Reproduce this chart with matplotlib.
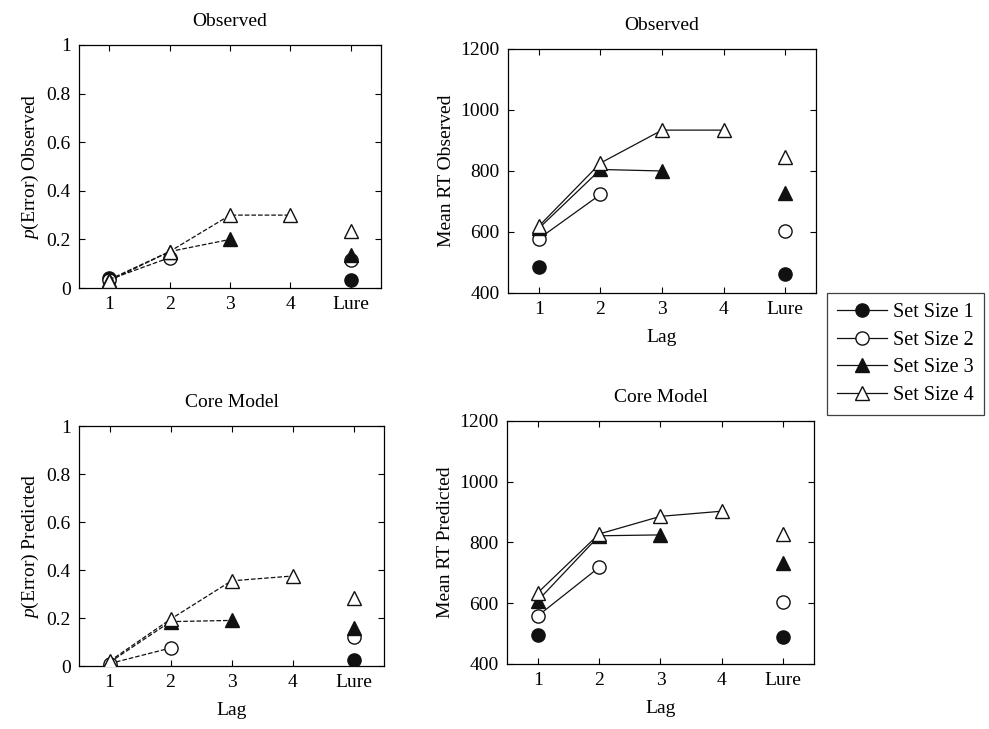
import numpy as np
import matplotlib
matplotlib.use("Agg")
import matplotlib.pyplot as plt
from matplotlib.lines import Line2D

plt.rcParams['font.family'] = ['Liberation Serif', 'DejaVu Serif']
plt.rcParams['mathtext.fontset'] = 'custom'
plt.rcParams['mathtext.it'] = 'Liberation Serif:italic'
plt.rcParams['mathtext.rm'] = 'Liberation Serif'

lag_labels = ["1", "2", "3", "4", "Lure"]
set_sizes = ["Set Size 1", "Set Size 2", "Set Size 3", "Set Size 4"]

# lag values per set size (lags 1..n), then the lure value
err_obs = [[0.042], [0.035, 0.125], [0.035, 0.15, 0.20], [0.03, 0.15, 0.30, 0.30]]
err_obs_lure = [0.035, 0.115, 0.135, 0.235]
rt_obs = [[485], [578, 723], [612, 805, 800], [619, 826, 934, 934]]
rt_obs_lure = [463, 602, 729, 846]
err_pred = [[0.0], [0.01, 0.075], [0.015, 0.185, 0.19], [0.02, 0.195, 0.355, 0.375]]
err_pred_lure = [0.027, 0.122, 0.157, 0.285]
rt_pred = [[495], [558, 718], [608, 822, 825], [634, 828, 886, 903]]
rt_pred_lure = [490, 603, 731, 829]

markers = [dict(marker='o', mfc='#111111'), dict(marker='o', mfc='white'),
           dict(marker='^', mfc='#111111'), dict(marker='^', mfc='white')]


def msize(i):
    return 10.5 if markers[i]['marker'] == '^' else 9.5


def draw_panel(ax, vals, lure, ls, ylim, yticks, ylabel, title):
    for i in range(4):
        y = vals[i]
        x = np.arange(1, len(y) + 1)
        ax.plot(x, y, ls=ls, lw=0.9, color='#111111', mec='#111111', mew=1.0,
                ms=msize(i), **markers[i], zorder=3 + i)
        ax.plot([5], [lure[i]], ls='none', color='#111111', mec='#111111', mew=1.0,
                ms=msize(i), **markers[i], zorder=3 + i)
    ax.set_xlim(0.5, 5.5)
    ax.set_ylim(*ylim)
    ax.set_xticks([1, 2, 3, 4, 5])
    ax.set_xticklabels(lag_labels)
    ax.set_yticks(yticks)
    ax.set_yticklabels([f"{t:g}" for t in yticks])
    ax.tick_params(direction='in', top=True, right=True, labelsize=14, length=4,
                   width=0.8, pad=6)
    ax.set_xlabel("Lag", fontsize=14, labelpad=8)
    ax.set_ylabel(ylabel, fontsize=14, labelpad=4)
    ax.set_title(title, fontsize=14, pad=14)
    for s in ax.spines.values():
        s.set_linewidth(0.9)


fig = plt.figure(figsize=(9.89, 7.29), dpi=100)
ax1 = fig.add_axes([0.0799, 0.6049, 0.3054, 0.3334])
ax2 = fig.add_axes([0.5137, 0.5981, 0.3114, 0.3347])
ax3 = fig.add_axes([0.0799, 0.0864, 0.3084, 0.3292])
ax4 = fig.add_axes([0.5126, 0.0892, 0.3104, 0.3333])

err_ticks = [0, 0.2, 0.4, 0.6, 0.8, 1]
rt_ticks = [400, 600, 800, 1000, 1200]
draw_panel(ax1, err_obs, err_obs_lure, '--', (0, 1), err_ticks,
           r"$\mathit{p}$(Error) Observed", "Observed")
draw_panel(ax2, rt_obs, rt_obs_lure, '-', (400, 1200), rt_ticks,
           "Mean RT Observed", "Observed")
draw_panel(ax3, err_pred, err_pred_lure, '--', (0, 1), err_ticks,
           r"$\mathit{p}$(Error) Predicted", "Core Model")
draw_panel(ax4, rt_pred, rt_pred_lure, '-', (400, 1200), rt_ticks,
           "Mean RT Predicted", "Core Model")
ax1.xaxis.label.set_color('white')

handles = []
for i in range(4):
    handles.append(Line2D([], [], color='#111111', lw=0.9, mec='#111111', mew=1.0,
                          ms=msize(i), **markers[i]))
leg = fig.legend(handles, set_sizes, loc='upper left', bbox_to_anchor=(0.836, 0.598),
                 borderaxespad=0, frameon=True, fancybox=False, edgecolor='#111111',
                 fontsize=14.5, handlelength=2.5, handletextpad=0.3, borderpad=0.5,
                 labelspacing=0.42)
leg.get_frame().set_linewidth(0.9)

fig.savefig("out.png", dpi=100)
